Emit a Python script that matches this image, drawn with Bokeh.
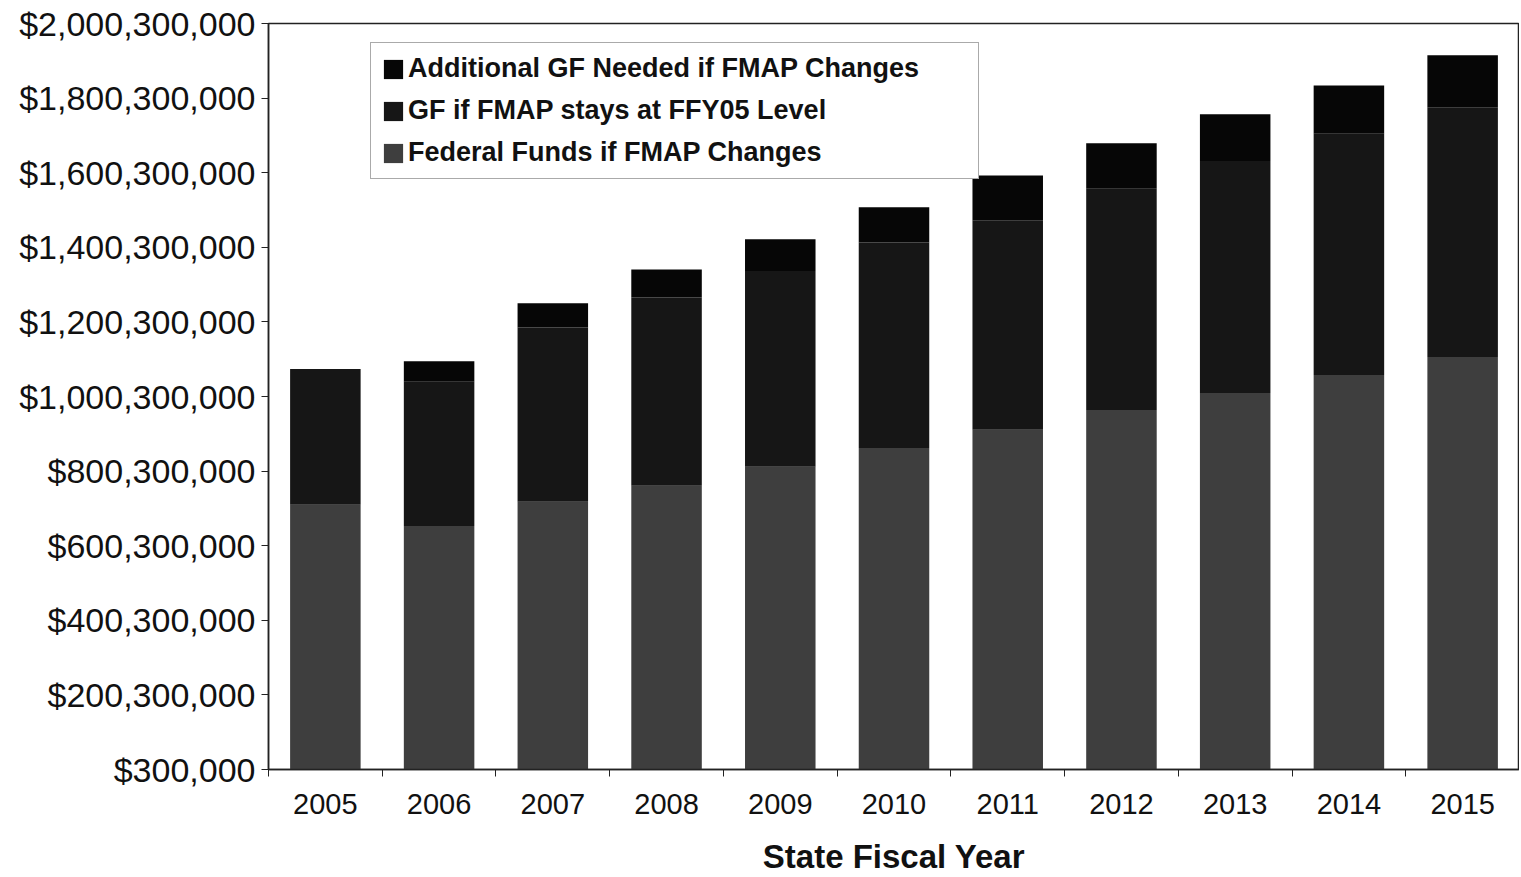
from bokeh.plotting import figure
from bokeh.models import FixedTicker, NumeralTickFormatter, Range1d, Legend, LegendItem, ColumnDataSource
from bokeh.embed import file_html
from bokeh.resources import INLINE

years = ["2005", "2006", "2007", "2008", "2009", "2010", "2011", "2012", "2013", "2014", "2015"]
# values in millions of dollars
federal_funds = [710, 653, 718, 761, 812, 862, 911, 964, 1010, 1058, 1106]
gf_ffy05 = [364, 387, 467, 505, 525, 551, 562, 593, 622, 647, 670]
additional_gf = [0, 55, 65, 75, 85, 95, 120, 122, 125, 129, 139]
y_ticks_labels = [300000 + 200000000 * k for k in range(11)]

M = 1_000_000
src = ColumnDataSource(dict(
    x=list(range(len(years))),
    fed=[v * M for v in federal_funds],
    gf=[v * M for v in gf_ffy05],
    add=[v * M for v in additional_gf],
))

p = figure(width=1519, height=877, output_backend="svg", toolbar_location=None,
           x_range=Range1d(-0.5, len(years) - 0.5),
           y_range=Range1d(300000, 2000300000),
           min_border_left=268, min_border_right=0, min_border_top=23, min_border_bottom=10)

rs = p.vbar_stack(["fed", "gf", "add"], x="x", width=0.62, source=src,
                  color=["#3e3e3e", "#161616", "#060606"], line_color=None)

p.xgrid.grid_line_color = None
p.ygrid.grid_line_color = None
p.outline_line_color = "#222222"
p.outline_line_width = 1.5
p.background_fill_color = "white"
p.border_fill_color = "white"

# y axis
ya = p.yaxis[0]
ya.ticker = FixedTicker(ticks=y_ticks_labels, minor_ticks=[])
ya.formatter = NumeralTickFormatter(format="$0,0")
ya.major_label_text_font = "Liberation Sans"
ya.major_label_text_font_size = "34px"
ya.major_label_text_color = "#111111"
ya.major_tick_out = 7
ya.major_tick_in = 0
ya.major_label_standoff = 6
ya.axis_line_color = "#222222"
ya.axis_line_width = 1.5
ya.major_tick_line_color = "#222222"

# x axis
xa = p.xaxis[0]
xa.ticker = FixedTicker(ticks=list(range(len(years))),
                        minor_ticks=[i + 0.5 for i in range(-1, len(years))])
xa.major_label_overrides = {i: y for i, y in enumerate(years)}
xa.major_tick_line_color = None
xa.minor_tick_line_color = "#222222"
xa.minor_tick_out = 7
xa.minor_tick_in = 0
xa.major_label_text_font = "Liberation Sans"
xa.major_label_text_font_size = "29px"
xa.major_label_text_color = "#111111"
xa.major_label_standoff = 17
xa.axis_line_color = "#222222"
xa.axis_line_width = 1.5
xa.axis_label = "State Fiscal Year"
xa.axis_label_text_font = "Liberation Sans"
xa.axis_label_text_font_style = "bold"
xa.axis_label_text_font_size = "33px"
xa.axis_label_text_color = "#111111"
xa.axis_label_standoff = 21

legend = Legend(items=[
    LegendItem(label="Additional GF Needed if FMAP Changes", renderers=[rs[2]]),
    LegendItem(label="GF if FMAP stays at FFY05 Level", renderers=[rs[1]]),
    LegendItem(label="Federal Funds if FMAP Changes", renderers=[rs[0]]),
], location=(102, 590))
legend.label_text_font = "Liberation Sans"
legend.label_text_font_style = "bold"
legend.label_text_font_size = "27px"
legend.label_text_color = "#111111"
legend.glyph_width = 24
legend.glyph_height = 24
legend.label_height = 26
legend.label_standoff = 3
legend.spacing = 11
legend.padding = 10
legend.label_width = 560
legend.border_line_color = "#555555"
legend.border_line_width = 1.5
legend.background_fill_alpha = 1
p.add_layout(legend)

open("out.html", "w").write(file_html(p, INLINE))
